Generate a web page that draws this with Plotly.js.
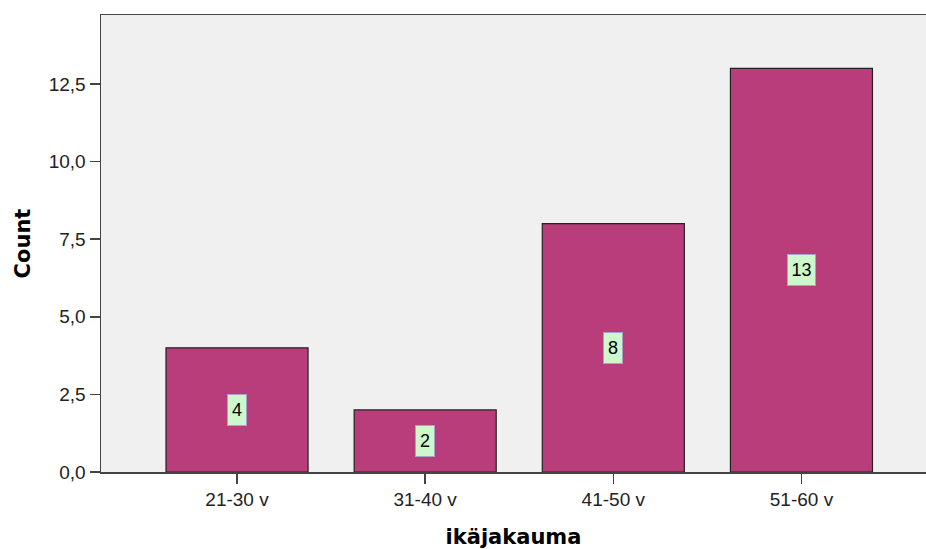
<!DOCTYPE html>
<html>
<head>
<meta charset="utf-8">
<script src="https://cdn.plot.ly/plotly-3.0.1.min.js"></script>
<style>
  html, body { margin: 0; padding: 0; background: #ffffff; }
  #chart { width: 926px; height: 549px; }
</style>
</head>
<body>
<div id="chart"></div>
<script>
// Age groups and respondent counts
const ageGroups = ['21-30 v', '31-40 v', '41-50 v', '51-60 v'];
const counts = [4, 2, 8, 13];
const yTicks = [0, 2.5, 5, 7.5, 10, 12.5];

const tickFont = { family: 'Liberation Sans, Arial, sans-serif', size: 19, color: '#222222' };
const titleFont = { family: 'DejaVu Sans, sans-serif', size: 21, color: '#000000', weight: 'bold' };

const barTrace = {
  type: 'bar',
  x: ageGroups,
  y: counts,
  width: 0.755,
  marker: {
    color: '#b93d7a',
    line: { color: '#222222', width: 1.2 }
  },
  hoverinfo: 'x+y'
};

// Count labels sit in small green boxes at the middle of each bar
const labels = ageGroups.map((g, i) => {
  const txt = String(counts[i]);
  return {
    x: g,
    y: counts[i] / 2,
    xref: 'x',
    yref: 'y',
    text: txt,
    showarrow: false,
    font: { family: 'Liberation Sans, Arial, sans-serif', size: 18, color: '#000000' },
    width: 7 + 9 * txt.length,
    height: 28,
    bgcolor: '#ccf8cc',
    bordercolor: '#a9a0cc',
    borderwidth: 1,
    borderpad: 1
  };
});

const layout = {
  width: 926,
  height: 549,
  margin: { l: 101, r: 0, t: 15, b: 77 },
  paper_bgcolor: '#ffffff',
  plot_bgcolor: '#f0f0f0',
  separators: ',.',
  showlegend: false,
  xaxis: {
    type: 'category',
    range: [-0.723, 3.662],
    showline: true,
    linecolor: '#444444',
    linewidth: 1.5,
    mirror: true,
    ticks: 'outside',
    ticklen: 10,
    tickwidth: 1.5,
    tickcolor: '#444444',
    showgrid: false,
    zeroline: false,
    tickfont: tickFont,
    title: { text: 'ikäjakauma', font: titleFont, standoff: 20 }
  },
  yaxis: {
    range: [0, 14.72],
    tickvals: yTicks,
    tickformat: '.1f',
    showline: true,
    linecolor: '#444444',
    linewidth: 1.5,
    ticks: 'outside',
    ticklen: 10,
    tickwidth: 1.5,
    tickcolor: '#444444',
    showgrid: false,
    zeroline: false,
    tickfont: tickFont,
    title: { text: 'Count', font: titleFont, standoff: 12 }
  },
  annotations: labels
};

Plotly.newPlot('chart', [barTrace], layout, { displayModeBar: false, staticPlot: true });
</script>
</body>
</html>
